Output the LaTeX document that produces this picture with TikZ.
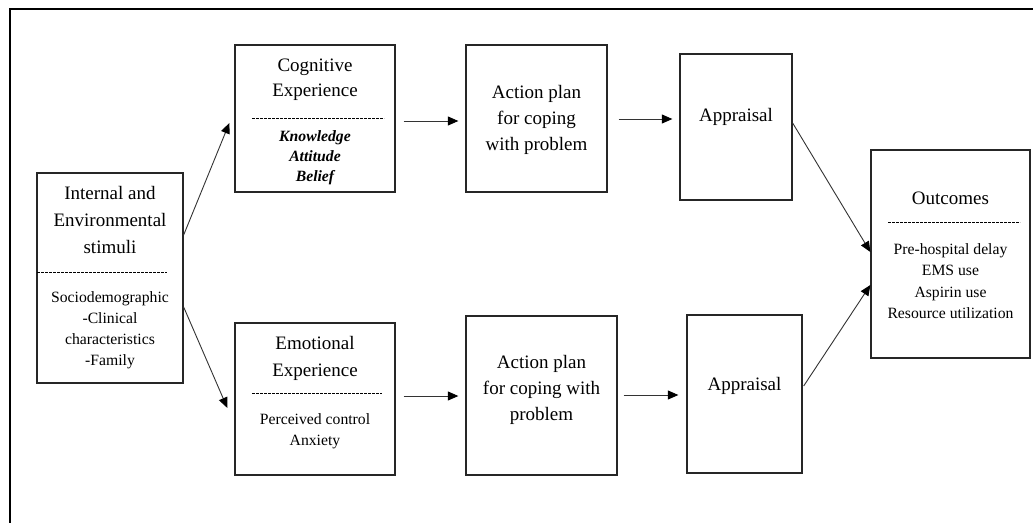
\documentclass[tikz,border=0pt]{standalone}
\usepackage{fontspec}
\setmainfont{Liberation Serif}
\usetikzlibrary{arrows.meta,calc}
\begin{document}
\begin{tikzpicture}[x=1pt,y=-1pt,
  box/.style={draw=black!85,line width=1.3pt,inner sep=0pt,fill=white},
  ttl/.style={align=center,inner sep=0pt,font=\fontsize{19}{27}\selectfont},
  sub/.style={align=center,inner sep=0pt,font=\fontsize{15.7}{21}\selectfont},
  sep/.style={line width=1pt,dash pattern=on 2.6pt off 1.4pt},
  arr/.style={line width=0.9pt,draw=black!80,-{Triangle[length=10.5pt,width=9pt,fill=black,color=black]}}]
\useasboundingbox (0,0) rectangle (1033,522);
% outer frame (only its left and top edges fall on the page)
\draw[line width=2pt] (10,540) -- (10,9) -- (1050,9);

% boxes
\node[box,minimum width=146pt,minimum height=210pt] (int)  at (110,278)   {};
\node[box,minimum width=160pt,minimum height=147pt] (cog)  at (315,118.5) {};
\node[box,minimum width=141pt,minimum height=147pt] (act1) at (536.5,118.5) {};
\node[box,minimum width=112pt,minimum height=146pt] (app1) at (736,127)   {};
\node[box,minimum width=160pt,minimum height=152pt] (emo)  at (315,399)   {};
\node[box,minimum width=151pt,minimum height=159pt] (act2) at (541.5,395.5) {};
\node[box,minimum width=115pt,minimum height=158pt] (app2) at (744.5,394) {};
\node[box,minimum width=159pt,minimum height=208pt] (out)  at (950.5,254) {};

% dashed separators inside the boxes
\draw[sep] ($(int.west)+(1,-6)$) -- ($(int.west)+(131,-6)$);
\draw[sep] ($(cog.west)+(18,-0.5)$) -- ($(cog.west)+(150,-0.5)$);
\draw[sep] ($(emo.west)+(18,-6)$) -- ($(emo.west)+(148,-6)$);
\draw[sep] ($(out.west)+(18,-32)$) -- ($(out.west)+(150,-32)$);

% texts
\node[ttl] (intT) at (110,220) {Internal and\\Environmental\\stimuli};
\node[sub] (intS) at (110,330) {Sociodemographic\\-Clinical\\characteristics\\-Family};
\node[ttl,font=\fontsize{19}{25}\selectfont] (cogT) at (315,80) {Cognitive\\Experience};
\node[sub,font=\fontsize{15.7}{20}\selectfont\bfseries\itshape] (cogS) at (315,158) {Knowledge\\Attitude\\Belief};
\node[ttl,font=\fontsize{19}{26}\selectfont] (act1T) at (536.5,120) {Action plan\\for coping\\with problem};
\node[ttl] (app1T) at (736,117) {Appraisal};
\node[ttl] (emoT) at (315,358) {Emotional\\Experience};
\node[sub] (emoS) at (315,431) {Perceived control\\Anxiety};
\node[ttl,font=\fontsize{19}{26}\selectfont] (act2T) at (541.5,390) {Action plan\\for coping with\\problem};
\node[ttl] (app2T) at (744.5,386) {Appraisal};
\node[ttl] (outT) at (950.5,198) {Outcomes};
\node[sub,font=\fontsize{15.7}{21.3}\selectfont] (outS) at (950.5,281) {Pre-hospital delay\\EMS use\\Aspirin use\\Resource utilization};

% connectors
\draw[arr] ($(int.east)+(0,-43)$) -- ($(cog.west)+(-5,4.5)$);
\draw[arr] ($(int.east)+(0,29)$) -- ($(emo.west)+(-7,9)$);
\draw[arr] ($(cog.east)+(8,2.5)$) -- ($(act1.west)+(-7,2.5)$);
\draw[arr] ($(act1.east)+(11,0.5)$) -- ($(app1.west)+(-7,-8)$);
\draw[arr] ($(emo.east)+(8,-3)$) -- ($(act2.west)+(-7,0.5)$);
\draw[arr] ($(act2.east)+(6,-0.5)$) -- ($(app2.west)+(-8,1)$);
\draw[arr] ($(app1.east)+(0,-4)$) -- ($(out.west)+(0,-2)$);
\draw[arr] ($(app2.east)+(1,-8)$) -- ($(out.west)+(0,31)$);
\end{tikzpicture}
\end{document}
